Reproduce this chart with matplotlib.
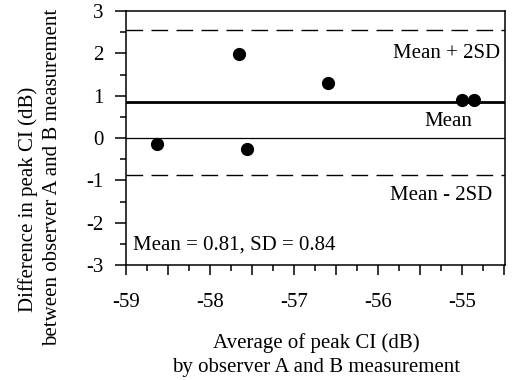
import numpy as np
import matplotlib
matplotlib.use("Agg")
import matplotlib.pyplot as plt
from matplotlib.ticker import MultipleLocator, FuncFormatter

# values (Bland-Altman style)
avg_ci = [-58.63, -57.65, -57.56, -56.60, -55.00, -54.86]
diff_ci = [-0.14, 1.98, -0.27, 1.30, 0.89, 0.89]
mean_line = 0.84
upper_line = 2.55
lower_line = -0.87
stats_text = "Mean = 0.81, SD = 0.84"

plt.rcParams['font.family'] = ['Liberation Serif', 'DejaVu Serif']
plt.rcParams['axes.unicode_minus'] = False
fs = 15

fig = plt.figure(figsize=(5.32, 3.8), dpi=100)
ax = fig.add_axes([126 / 532, 1 - 265 / 380, (505 - 126) / 532, (265 - 11) / 380])

ax.axhline(0, color='black', lw=0.9)
ax.axhline(mean_line, color='black', lw=2.0)
ax.axhline(upper_line, color='black', lw=1.0, linestyle=(0, (12, 6)))
ax.axhline(lower_line, color='black', lw=1.0, linestyle=(0, (12, 6)))
ax.scatter(avg_ci, diff_ci, s=72, color='black', zorder=3)

ax.text(-54.55, 2.0, "Mean + 2SD", ha='right', va='center', fontsize=fs)
ax.text(-55.17, 0.38, "Mean", ha='center', va='center', fontsize=fs)
ax.text(-54.64, -1.36, "Mean - 2SD", ha='right', va='center', fontsize=fs)
ax.text(-58.92, -2.54, stats_text, ha='left', va='center', fontsize=fs)

ax.set_xlim(-59, -54.49)
ax.set_ylim(-3, 3)
ax.xaxis.set_major_locator(MultipleLocator(0.5))
ax.xaxis.set_minor_locator(MultipleLocator(0.25))
ax.xaxis.set_major_formatter(FuncFormatter(
    lambda v, p: f"{v:.0f}" if abs(v - round(v)) < 1e-6 else ""))
ax.yaxis.set_major_locator(MultipleLocator(1))
ax.yaxis.set_minor_locator(MultipleLocator(0.5))
ax.yaxis.set_major_formatter(FuncFormatter(lambda v, p: f"{v:.0f}"))

ax.tick_params(axis='x', which='major', direction='out', length=7, width=1.1,
               labelsize=fs, pad=13)
ax.tick_params(axis='x', which='minor', direction='out', length=4.5, width=1.1)
ax.tick_params(axis='y', which='major', direction='out', length=8, width=1.1,
               labelsize=fs, pad=8)
ax.tick_params(axis='y', which='minor', direction='out', length=4, width=1.1)
for sp in ax.spines.values():
    sp.set_linewidth(1.1)

fig.text(316 / 532, 1 - 355 / 380,
         "Average of peak CI (dB)\nby observer A and B measurement",
         ha='center', va='center', fontsize=fs, linespacing=1.4)
fig.text(28 / 532, 1 - 199 / 380, "Difference in peak CI (dB)",
         rotation=90, ha='center', va='center', fontsize=fs)
fig.text(53 / 532, 1 - 177 / 380, "between observer A and B measurement",
         rotation=90, ha='center', va='center', fontsize=fs)

fig.savefig("out.png", dpi=100)
